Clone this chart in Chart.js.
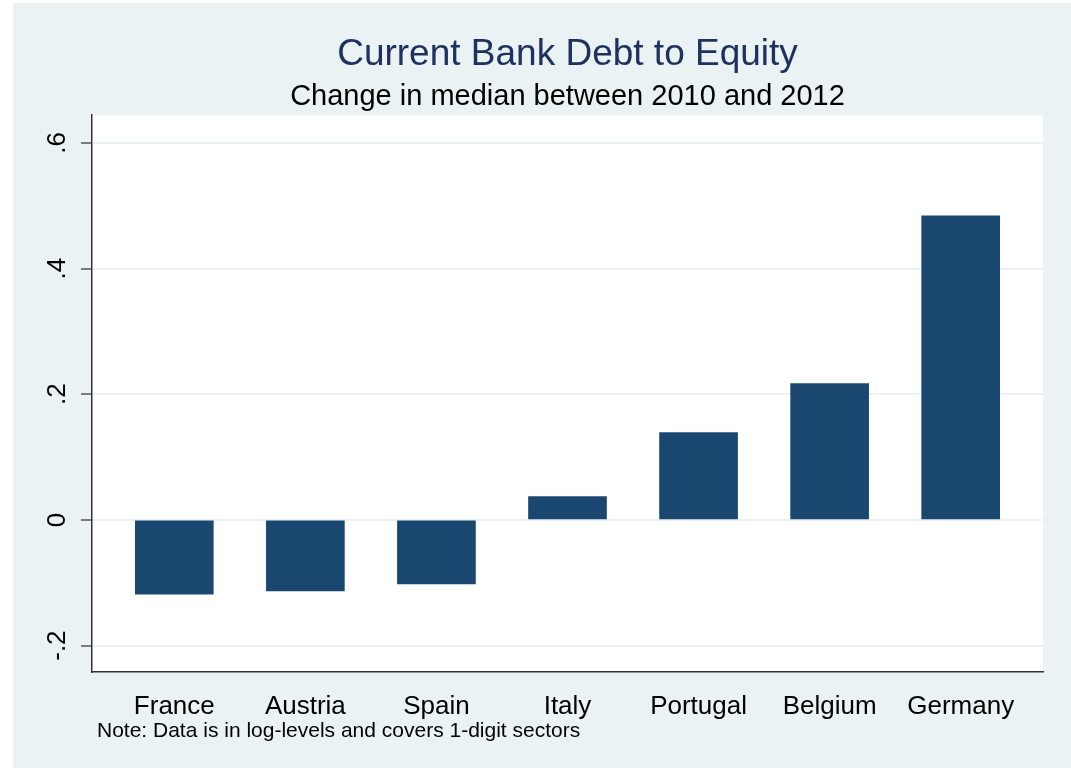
<!DOCTYPE html>
<html>
<head>
<meta charset="utf-8">
<title>Current Bank Debt to Equity</title>
<script src="https://cdn.jsdelivr.net/npm/chart.js@4.4.1/dist/chart.umd.min.js"></script>
<style>
    html, body { margin: 0; padding: 0; background: #ffffff; overflow: hidden; }
    #wrap { position: absolute; left: 13px; top: 3px; width: 1058px; height: 765px; background: #eaf2f3; }
</style>
</head>
<body>
<div id="wrap"><canvas id="chart"></canvas></div>
<script>
// countries, in the order of the bars
const categories = ["France", "Austria", "Spain", "Italy", "Portugal", "Belgium", "Germany"];
// change in median between 2010 and 2012
const values = [-0.118, -0.113, -0.102, 0.037, 0.139, 0.217, 0.484];
// y axis ticks
const yTicks = [-0.2, 0, 0.2, 0.4, 0.6];
const yTickLabels = ["-.2", "0", ".2", ".4", ".6"];

const font = "'Liberation Sans', Arial, Helvetica, sans-serif";
const barColor = "#1a476f";
const gridColor = "#eaf2f3";

// white plot region
const plotBackground = {
    id: "plotBackground",
    beforeDraw(chart) {
        const a = chart.chartArea;
        const ctx = chart.ctx;
        ctx.save();
        ctx.fillStyle = "#ffffff";
        ctx.fillRect(a.left, a.top, a.right - a.left, a.bottom - a.top);
        ctx.restore();
    }
};

// rotated y tick labels and the note under the chart
const extraText = {
    id: "extraText",
    afterDraw(chart) {
        const ctx = chart.ctx;
        const y = chart.scales.y;
        const a = chart.chartArea;
        ctx.save();
        ctx.fillStyle = "#000000";
        ctx.font = "26px " + font;
        ctx.textAlign = "center";
        ctx.textBaseline = "middle";
        yTicks.forEach((v, i) => {
            const py = y.getPixelForValue(v);
            ctx.save();
            ctx.translate(a.left - 34, py);
            ctx.rotate(-Math.PI / 2);
            ctx.fillText(yTickLabels[i], 0, 0);
            ctx.restore();
        });
        ctx.font = "21px " + font;
        ctx.textAlign = "left";
        ctx.fillText("Note: Data is in log-levels and covers 1-digit sectors", 84, 728);
        ctx.restore();
    }
};

const ctx = document.getElementById("chart").getContext("2d");

const chart = new Chart(ctx, {
    type: "bar",
    data: {
        datasets: [{
            data: values.map((v, i) => ({ x: i, y: v })),
            backgroundColor: barColor,
            borderWidth: 0,
            barThickness: 78
        }]
    },
    options: {
        responsive: true,
        maintainAspectRatio: false,
        animation: false,
        layout: { padding: { left: 0, right: 28, top: 0, bottom: 0 } },
        plugins: {
            legend: { display: false },
            tooltip: { enabled: false },
            title: {
                display: true,
                text: "Current Bank Debt to Equity",
                color: "#1e3160",
                fullSize: false,
                font: { family: font, size: 37, weight: "normal" },
                padding: { top: 30, bottom: 0 }
            },
            subtitle: {
                display: true,
                text: "Change in median between 2010 and 2012",
                color: "#000000",
                fullSize: false,
                font: { family: font, size: 29, weight: "normal" },
                padding: { top: 2, bottom: 1 }
            }
        },
        scales: {
            x: {
                type: "linear",
                offset: false,
                min: -0.628,
                max: 6.628,
                afterBuildTicks: (scale) => {
                    scale.ticks = categories.map((c, i) => ({ value: i }));
                },
                afterFit: (scale) => { scale.height = 96; },
                grid: { display: false, offset: false },
                border: { display: true, color: "#333333", width: 1.5 },
                ticks: {
                    color: "#000000",
                    font: { family: font, size: 26 },
                    padding: 11,
                    maxRotation: 0,
                    autoSkip: false,
                    callback: (v) => categories[v]
                }
            },
            y: {
                min: -0.242,
                max: 0.644,
                afterBuildTicks: (scale) => {
                    scale.ticks = yTicks.map(v => ({ value: v }));
                },
                afterFit: (scale) => { scale.width = 79; },
                grid: {
                    color: gridColor,
                    lineWidth: 2,
                    tickColor: "#555555",
                    tickLength: 11,
                    tickWidth: 1.5
                },
                border: { display: true, color: "#333333", width: 1.5 },
                ticks: {
                    color: "rgba(0,0,0,0)",
                    font: { family: font, size: 26 },
                    callback: () => ""
                }
            }
        }
    },
    plugins: [plotBackground, extraText]
});
</script>
</body>
</html>
